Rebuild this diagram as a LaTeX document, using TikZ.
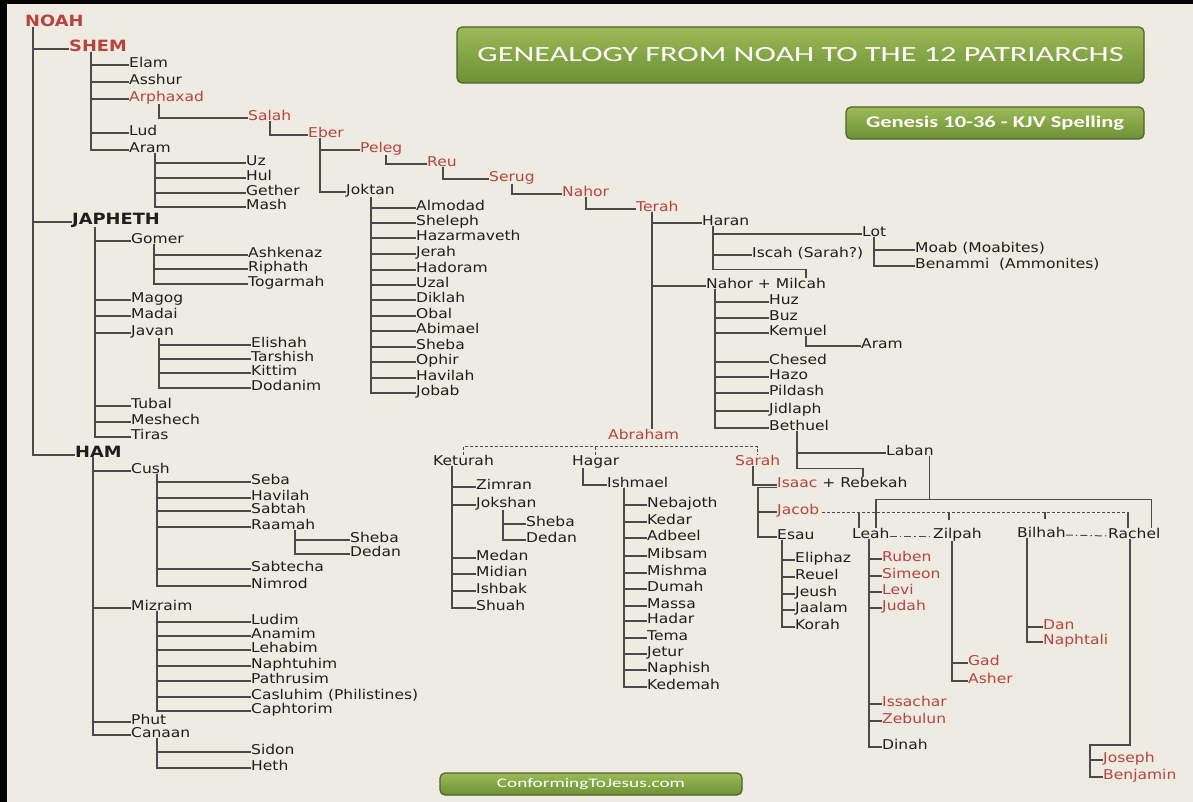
\documentclass[tikz,border=0pt]{standalone}
\usepackage{fontspec}
\usepackage{graphicx}
\newfontfamily\namefont[FakeStretch=1.15]{DejaVu Sans}
\newfontfamily\boxfont{Carlito}
\definecolor{paper}{HTML}{EDEBE2}
\definecolor{ink}{HTML}{1E1E1E}
\definecolor{brick}{HTML}{B8433F}
\definecolor{wire}{HTML}{4A4A4A}
\definecolor{leaf}{HTML}{9BBB59}
\definecolor{moss}{HTML}{6E8F34}
\definecolor{rim}{HTML}{4F6228}

\tikzset{
  nm/.style={anchor=mid west, inner sep=0pt, text=ink, font=\namefont\fontsize{13.5}{15}\selectfont},
  heir/.style={nm, text=brick},
  chief/.style={nm, font=\namefont\fontsize{15.5}{17}\selectfont\bfseries},
  link/.style={draw=wire, line width=1.4pt},
  wed/.style={link, line width=1pt, dash pattern=on 3pt off 2pt},
  pair/.style={link, line width=1pt, dash pattern=on 7pt off 3pt on 1.5pt off 3pt},
  banner/.style={draw=rim, line width=1.2pt, rounded corners=5pt, top color=leaf, bottom color=moss, text=white, inner sep=0pt}
}

\begin{document}
\begin{tikzpicture}[x=1pt, y=-1pt]
    \useasboundingbox (0,0) rectangle (1193,802);
    \fill[black] (0,0) rectangle (1193,802);
    \fill[paper] (7,4) rectangle (1193,802);

    % banners
    \node[banner, minimum width=687pt, minimum height=56pt] (title) at (800.5,55)
        {\boxfont\resizebox{646pt}{14pt}{GENEALOGY FROM NOAH TO THE 12 PATRIARCHS}};
    \node[banner, minimum width=298pt, minimum height=32pt] (source) at (995,123)
        {\boxfont\bfseries\resizebox{258pt}{11.5pt}{Genesis 10-36 - KJV Spelling}};
    \node[banner, minimum width=302pt, minimum height=22pt] (site) at (591,784)
        {\boxfont\resizebox{188pt}{9pt}{ConformingToJesus.com}};

    % Noah and his sons
    \node[chief, text=brick] (noah) at (25,24) {NOAH};
    \node[chief, text=brick] (shem) at (69,49) {SHEM};
    \node[chief] (japheth) at (72,222) {JAPHETH};
    \node[chief] (ham) at (75,455) {HAM};
    \foreach \k in {shem,japheth,ham}
        \draw[link] ([xshift=8pt]noah.south west) |- (\k.mid west);

    % Shem
    \node[nm] (elam) at (129,65) {Elam};
    \node[nm] (asshur) at (129,82) {Asshur};
    \node[heir] (arphaxad) at (129,99) {Arphaxad};
    \node[nm] (lud) at (129,133) {Lud};
    \node[nm] (aramS) at (129,150) {Aram};
    \foreach \k in {elam,asshur,arphaxad,lud,aramS}
        \draw[link] ([xshift=22pt]shem.south west) |- (\k.mid west);

    \foreach \n/\t/\y in {uz/Uz/163, hul/Hul/178, gether/Gether/193, mash/Mash/207}{
        \node[nm] (\n) at (246,\y) {\t};
        \draw[link] ([xshift=26pt]aramS.south west) |- (\n.mid west);
    }

    % line of Arphaxad
    \node[heir] (salah) at (248,118) {Salah};
    \node[heir] (eber) at (308,135) {Eber};
    \node[heir] (peleg) at (360,150) {Peleg};
    \node[nm] (joktan) at (346,192) {Joktan};
    \node[heir] (reu) at (427,164) {Reu};
    \node[heir] (serug) at (489,179) {Serug};
    \node[heir] (nahor) at (562,194) {Nahor};
    \node[heir] (terah) at (636,209) {Terah};
    \draw[link] ([xshift=30pt]arphaxad.south west) |- (salah.mid west);
    \draw[link] ([xshift=22pt]salah.south west) |- (eber.mid west);
    \foreach \k in {peleg,joktan}
        \draw[link] ([xshift=12pt]eber.south west) |- (\k.mid west);
    \draw[link] ([xshift=26pt]peleg.south west) |- (reu.mid west);
    \draw[link] ([xshift=16pt]reu.south west) |- (serug.mid west);
    \draw[link] ([xshift=23pt]serug.south west) |- (nahor.mid west);
    \draw[link] ([xshift=24pt]nahor.south west) |- (terah.mid west);

    \foreach \n/\t/\y in {almodad/Almodad/208, sheleph/Sheleph/223, hazarmaveth/Hazarmaveth/238,
        jerah/Jerah/254, hadoram/Hadoram/270, uzal/Uzal/285, diklah/Diklah/300, obal/Obal/316,
        abimael/Abimael/331, shebaJ/Sheba/347, ophir/Ophir/362, havilahJ/Havilah/378, jobab/Jobab/393}{
        \node[nm] (\n) at (416,\y) {\t};
        \draw[link] ([xshift=25pt]joktan.south west) |- (\n.mid west);
    }

    % Japheth
    \foreach \n/\t/\y in {gomer/Gomer/241, magog/Magog/300, madai/Madai/316, javan/Javan/333,
        tubal/Tubal/406, meshech/Meshech/422, tiras/Tiras/437}{
        \node[nm] (\n) at (131,\y) {\t};
        \draw[link] ([xshift=23pt]japheth.south west) |- (\n.mid west);
    }
    \foreach \n/\t/\y in {ashkenaz/Ashkenaz/255, riphath/Riphath/269, togarmah/Togarmah/284}{
        \node[nm] (\n) at (248,\y) {\t};
        \draw[link] ([xshift=23pt]gomer.south west) |- (\n.mid west);
    }
    \foreach \n/\t/\y in {elishah/Elishah/345, tarshish/Tarshish/359, kittim/Kittim/373, dodanim/Dodanim/388}{
        \node[nm] (\n) at (251,\y) {\t};
        \draw[link] ([xshift=28pt]javan.south west) |- (\n.mid west);
    }

    % Ham
    \foreach \n/\t/\y in {cush/Cush/471, mizraim/Mizraim/608, phut/Phut/722, canaan/Canaan/735}{
        \node[nm] (\n) at (131,\y) {\t};
        \draw[link] ([xshift=18pt]ham.south west) |- (\n.mid west);
    }
    \foreach \n/\t/\y in {seba/Seba/482, havilahC/Havilah/498, sabtah/Sabtah/511, raamah/Raamah/527,
        sabtecha/Sabtecha/569, nimrod/Nimrod/586}{
        \node[nm] (\n) at (251,\y) {\t};
        \draw[link] ([xshift=26pt]cush.south west) |- (\n.mid west);
    }
    \foreach \n/\t/\y in {shebaR/Sheba/540, dedanR/Dedan/554}{
        \node[nm] (\n) at (350,\y) {\t};
        \draw[link] ([xshift=44pt]raamah.south west) |- (\n.mid west);
    }
    \foreach \n/\t/\y in {ludim/Ludim/622, anamim/Anamim/636, lehabim/Lehabim/650, naphtuhim/Naphtuhim/666,
        pathrusim/Pathrusim/681, casluhim/Casluhim (Philistines)/697, caphtorim/Caphtorim/711}{
        \node[nm] (\n) at (251,\y) {\t};
        \draw[link] ([xshift=26pt]mizraim.south west) |- (\n.mid west);
    }
    \foreach \n/\t/\y in {sidon/Sidon/752, heth/Heth/768}{
        \node[nm] (\n) at (251,\y) {\t};
        \draw[link] ([xshift=26pt]canaan.south west) |- (\n.mid west);
    }

    % Terah
    \node[nm] (haran) at (702,223) {Haran};
    \node[nm] (nahorM) at (706,286) {Nahor + Milcah};
    \node[heir] (abraham) at (608,437) {Abraham};
    \foreach \k in {haran,nahorM}
        \draw[link] ([xshift=16pt]terah.south west) |- (\k.mid west);
    \draw[link] ([xshift=16pt]terah.south west) -- ([xshift=16pt]terah.south west |- abraham.north);

    \node[nm] (lot) at (862,234) {Lot};
    \node[nm] (iscah) at (752,255) {Iscah (Sarah?)};
    \foreach \k in {lot,iscah}
        \draw[link] ([xshift=11pt]haran.south west) |- (\k.mid west);
    \draw[link] ([xshift=11pt]haran.south west) |- ([xshift=100pt, yshift=8pt]nahorM.north west)
        -- ([xshift=100pt]nahorM.north west);
    \foreach \n/\t/\y in {moab/Moab (Moabites)/250, benammi/Benammi\ \ (Ammonites)/266}{
        \node[nm] (\n) at (915,\y) {\t};
        \draw[link] ([xshift=12pt]lot.south west) |- (\n.mid west);
    }

    \foreach \n/\t/\y in {huz/Huz/302, buz/Buz/318, kemuel/Kemuel/333, chesed/Chesed/362, hazo/Hazo/377,
        pildash/Pildash/393, jidlaph/Jidlaph/411, bethuel/Bethuel/428}{
        \node[nm] (\n) at (769,\y) {\t};
        \draw[link] ([xshift=9pt]nahorM.south west) |- (\n.mid west);
    }
    \node[nm] (aramN) at (861,346) {Aram};
    \draw[link] ([xshift=37pt]kemuel.south west) |- (aramN.mid west);

    \node[nm] (laban) at (886,453) {Laban};
    \node[nm] (isaac) at (777,485) {\textcolor{brick}{Isaac} + Rebekah};
    \draw[link] ([xshift=28pt]bethuel.south west) |- (laban.mid west);
    \draw[link] ([xshift=28pt]bethuel.south west) |- ([xshift=86pt, yshift=8pt]isaac.north west)
        -- ([xshift=86pt]isaac.north west);

    % Abraham
    \node[nm] (keturah) at (433,463) {Keturah};
    \node[nm] (hagar) at (572,463) {Hagar};
    \node[heir] (sarah) at (735,463) {Sarah};
    \coordinate (wedA) at ([yshift=-7pt]abraham.south);
    \draw[wed] (keturah.north) |- (wedA) -| (sarah.north);
    \draw[wed] (hagar.north) -- (hagar.north |- wedA);

    \foreach \n/\t/\y in {zimran/Zimran/487, jokshan/Jokshan/505, medan/Medan/558, midian/Midian/574,
        ishbak/Ishbak/591, shuah/Shuah/608}{
        \node[nm] (\n) at (476,\y) {\t};
        \draw[link] ([xshift=19pt]keturah.south west) |- (\n.mid west);
    }
    \foreach \n/\t/\y in {shebaK/Sheba/524, dedanK/Dedan/540}{
        \node[nm] (\n) at (526,\y) {\t};
        \draw[link] ([xshift=27pt]jokshan.south west) |- (\n.mid west);
    }

    \node[nm] (ishmael) at (607,485) {Ishmael};
    \draw[link] ([xshift=11pt]hagar.south west) |- (ishmael.mid west);
    \foreach \n/\t/\y in {nebajoth/Nebajoth/505, kedar/Kedar/522, adbeel/Adbeel/538, mibsam/Mibsam/556,
        mishma/Mishma/573, dumah/Dumah/589, massa/Massa/606, hadar/Hadar/621, tema/Tema/638,
        jetur/Jetur/654, naphish/Naphish/670, kedemah/Kedemah/687}{
        \node[nm] (\n) at (647,\y) {\t};
        \draw[link] ([xshift=17pt]ishmael.south west) |- (\n.mid west);
    }

    % Isaac
    \draw[link] ([xshift=18pt]sarah.south west) |- (isaac.mid west);
    \node[heir] (jacob) at (777,512) {Jacob};
    \node[nm] (esau) at (777,537) {Esau};
    \draw[link] (isaac.south west) -| ([xshift=-19pt]esau.mid west) -- (esau.mid west);
    \draw[link] ([xshift=-19pt]jacob.mid west) -- (jacob.mid west);

    \foreach \n/\t/\y in {eliphaz/Eliphaz/560, reuel/Reuel/577, jeush/Jeush/594, jaalam/Jaalam/610, korah/Korah/627}{
        \node[nm] (\n) at (795,\y) {\t};
        \draw[link] ([xshift=5pt]esau.south west) |- (\n.mid west);
    }

    % Jacob and his wives
    \node[nm] (leah) at (852,536) {Leah};
    \node[nm] (zilpah) at (933,536) {Zilpah};
    \node[nm] (bilhah) at (1017,535) {Bilhah};
    \node[nm] (rachel) at (1108,536) {Rachel};
    \draw[wed] ([xshift=3pt]jacob.mid east) -- ([xshift=20pt]rachel.north west |- jacob.mid east);
    \draw[link] ([xshift=7pt]leah.north west) -- ([xshift=7pt]leah.north west |- jacob.mid east);
    \draw[link] ([xshift=16pt, yshift=8pt]zilpah.north west) -- ([xshift=16pt]zilpah.north west |- jacob.mid east);
    \draw[link] ([xshift=28pt, yshift=8pt]bilhah.north west) -- ([xshift=28pt]bilhah.north west |- jacob.mid east);
    \draw[link] ([xshift=20pt]rachel.north west) -- ([xshift=20pt]rachel.north west |- jacob.mid east);
    \draw[pair] (leah.mid east) -- (zilpah.mid west);
    \draw[pair] (bilhah.mid east) -- (rachel.mid west);

    \coordinate (wedL) at ([yshift=28pt]rachel.north);
    \draw[link] ([xshift=24pt]leah.north west) |- ([xshift=-9pt]rachel.north east |- wedL)
        -- ([xshift=-9pt]rachel.north east);
    \draw[link] ([xshift=-4pt]laban.south east) -- ([xshift=-4pt]laban.south east |- wedL);

    % the twelve
    \foreach \n/\t/\y in {ruben/Ruben/559, simeon/Simeon/576, levi/Levi/592, judah/Judah/608,
        issachar/Issachar/704, zebulun/Zebulun/721}{
        \node[heir] (\n) at (882,\y) {\t};
        \draw[link] ([xshift=17pt]leah.south west) |- (\n.mid west);
    }
    \node[nm] (dinah) at (882,747) {Dinah};
    \draw[link] ([xshift=17pt]leah.south west) |- (dinah.mid west);

    \foreach \n/\t/\y in {gad/Gad/663, asher/Asher/681}{
        \node[heir] (\n) at (968,\y) {\t};
        \draw[link] ([xshift=19pt]zilpah.south west) |- (\n.mid west);
    }
    \foreach \n/\t/\y in {dan/Dan/627, naphtali/Naphtali/642}{
        \node[heir] (\n) at (1043,\y) {\t};
        \draw[link] ([xshift=10pt]bilhah.south west) |- (\n.mid west);
    }
    \node[heir] (joseph) at (1103,760) {Joseph};
    \node[heir] (benjamin) at (1103,777) {Benjamin};
    \draw[link] ([xshift=22pt]rachel.south west) |- ([xshift=-13pt, yshift=15pt]joseph.mid west)
        |- (benjamin.mid west);
    \draw[link] ([xshift=-13pt]joseph.mid west) -- (joseph.mid west);

\end{tikzpicture}
\end{document}
